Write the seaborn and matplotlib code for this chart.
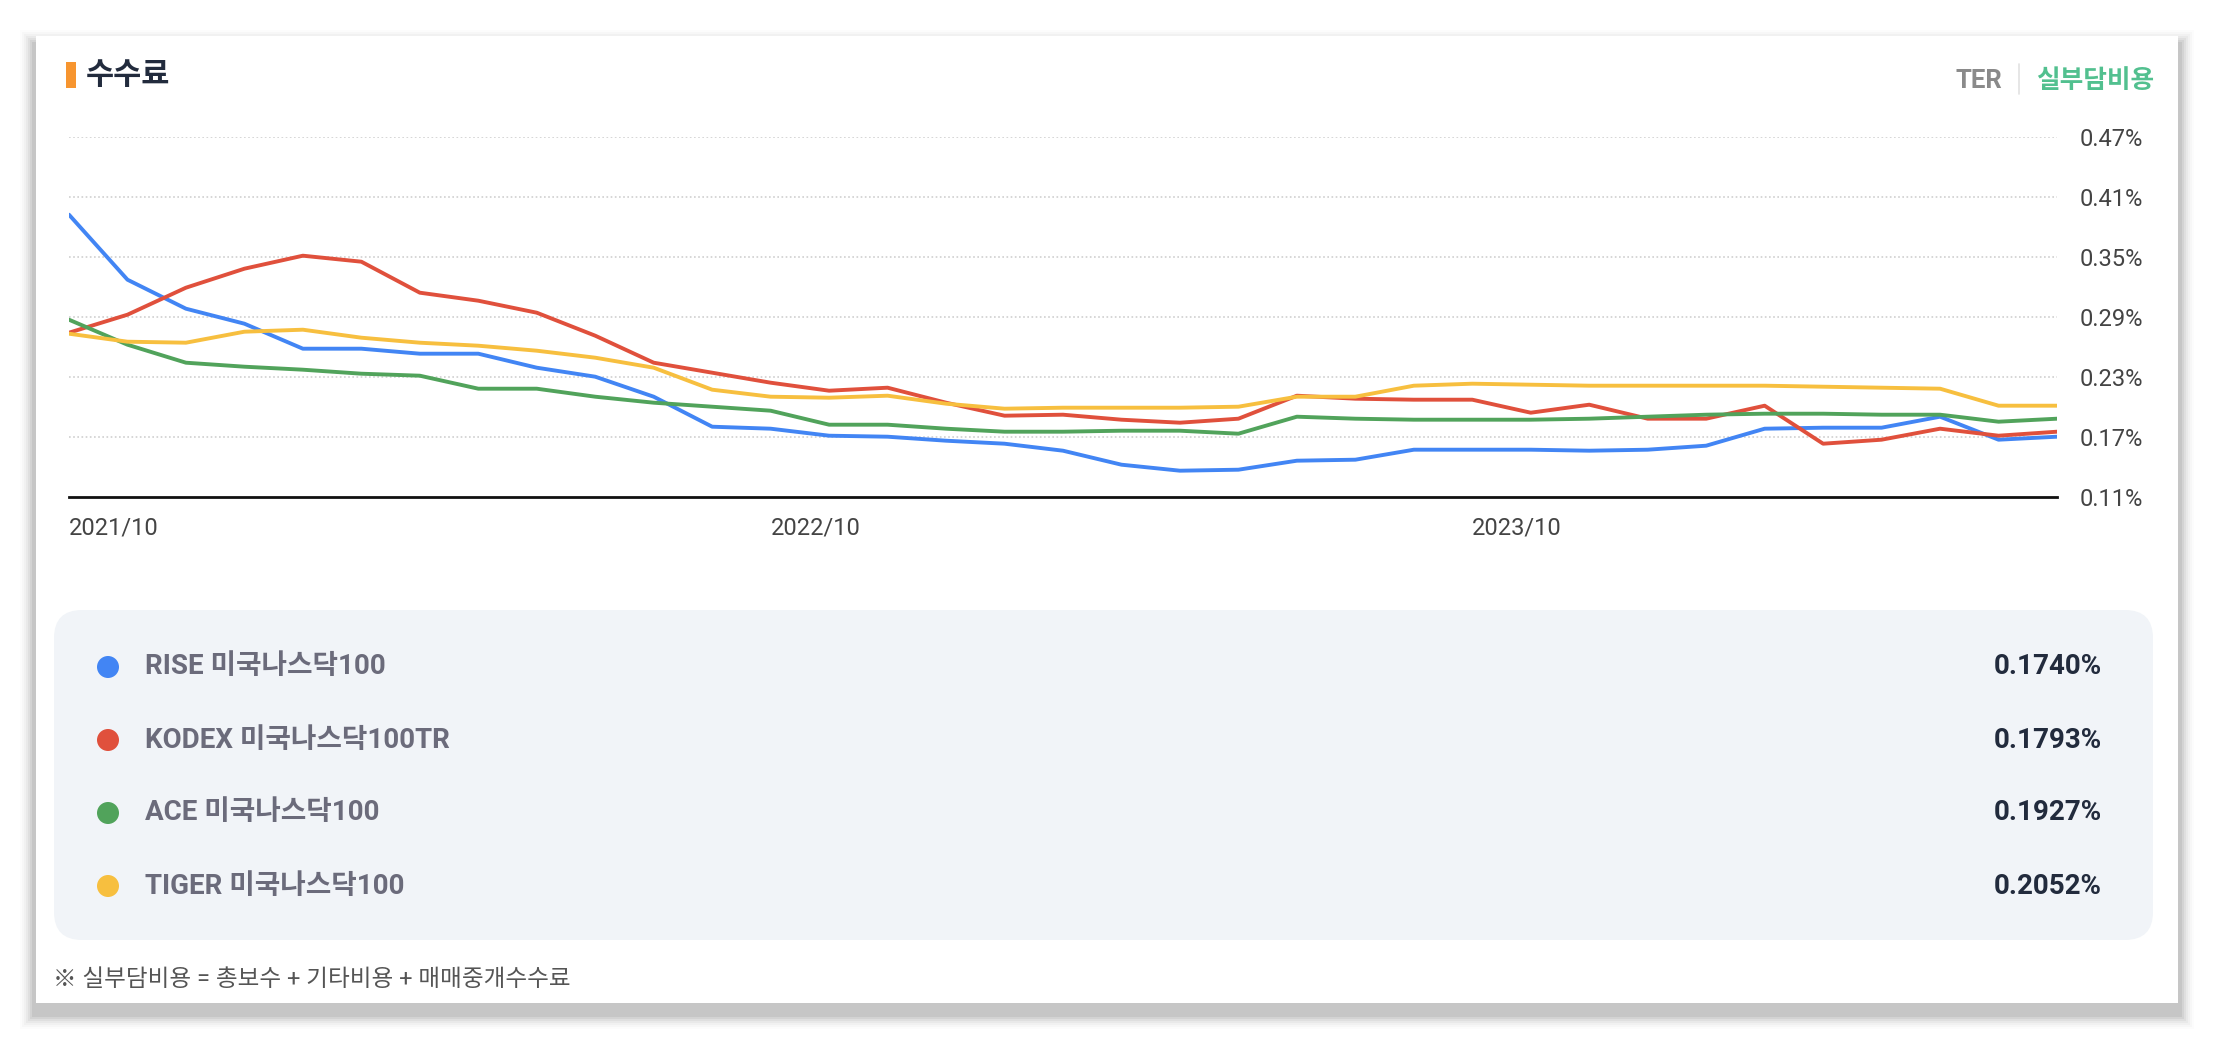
import matplotlib
matplotlib.use("Agg")
import matplotlib.pyplot as plt
from matplotlib.patches import FancyBboxPatch, Rectangle, Circle
import pandas as pd
import seaborn as sns

# monthly, 2021/10 .. 2024/08
months = pd.period_range("2021-10", periods=35, freq="M").strftime("%Y/%m").tolist()

rise = [0.392, 0.327, 0.298, 0.283, 0.258, 0.258, 0.253, 0.253, 0.239, 0.230,
        0.210, 0.180, 0.178, 0.171, 0.170, 0.166, 0.163, 0.156, 0.142, 0.136,
        0.137, 0.146, 0.147, 0.157, 0.157, 0.157, 0.156, 0.157, 0.161, 0.178,
        0.179, 0.179, 0.190, 0.167, 0.170]
kodex = [0.274, 0.292, 0.319, 0.338, 0.351, 0.345, 0.314, 0.306, 0.294, 0.271,
         0.244, 0.234, 0.224, 0.216, 0.219, 0.204, 0.191, 0.192, 0.187, 0.184,
         0.188, 0.211, 0.208, 0.207, 0.207, 0.194, 0.202, 0.188, 0.188, 0.201,
         0.163, 0.167, 0.178, 0.171, 0.175]
ace = [0.287, 0.262, 0.244, 0.240, 0.237, 0.233, 0.231, 0.218, 0.218, 0.210,
       0.204, 0.200, 0.196, 0.182, 0.182, 0.178, 0.175, 0.175, 0.176, 0.176,
       0.173, 0.190, 0.188, 0.187, 0.187, 0.187, 0.188, 0.190, 0.192, 0.193,
       0.193, 0.192, 0.192, 0.185, 0.188]
tiger = [0.273, 0.265, 0.264, 0.275, 0.277, 0.269, 0.264, 0.261, 0.256, 0.249,
         0.239, 0.217, 0.210, 0.209, 0.211, 0.203, 0.198, 0.199, 0.199, 0.199,
         0.200, 0.210, 0.210, 0.221, 0.223, 0.222, 0.221, 0.221, 0.221, 0.221,
         0.220, 0.219, 0.218, 0.201, 0.201]

names = ["RISE 미국나스닥100", "KODEX 미국나스닥100TR", "ACE 미국나스닥100", "TIGER 미국나스닥100"]
latest = ["0.1740%", "0.1793%", "0.1927%", "0.2052%"]
colors = ["#4285f4", "#e0503c", "#51a35b", "#f7bf3f"]

yticks = [0.11, 0.17, 0.23, 0.29, 0.35, 0.41, 0.47]
xtick_idx = [0, 12, 24]

rows = []
for name, vals in zip(names, [rise, kodex, ace, tiger]):
    for i, v in enumerate(vals):
        rows.append({"idx": i, "month": months[i], "fund": name, "value": v})
df = pd.DataFrame(rows)

sns.set_style("white")
plt.rcParams["font.family"] = ["Roboto", "Noto Sans CJK KR", "DejaVu Sans"]

W, H = 2214, 1040
fig = plt.figure(figsize=(W / 100, H / 100), dpi=100)
fig.patch.set_facecolor("#ffffff")

def fx(px):
    return px / W

def fy(py):
    return 1 - py / H

# card shadow + card
for k, a in enumerate([0.012, 0.018, 0.024, 0.03, 0.04, 0.05, 0.06]):
    d = 16 - 2 * k
    fig.patches.append(Rectangle((fx(36 - d), fy(1003 + d + 10)), fx(2142 + 2 * d), (967 + 2 * d) / H,
                                 transform=fig.transFigure, facecolor="#000000", alpha=a,
                                 edgecolor="none", zorder=0))
fig.patches.append(Rectangle((fx(36), fy(1003)), fx(2142), 967 / H, transform=fig.transFigure,
                             facecolor="white", edgecolor="none", zorder=1))

# title
fig.patches.append(Rectangle((fx(66), fy(88)), fx(10), 26 / H, transform=fig.transFigure,
                             facecolor="#f7952f", edgecolor="none", zorder=2))
fig.text(fx(86), fy(75), "수수료", fontsize=22, fontweight="bold", color="#222b3d",
         va="center", ha="left", zorder=3)

# TER / 실부담비용 toggle
fig.text(fx(2002), fy(81), "TER", fontsize=18.5, fontweight="bold", color="#8a8a8a",
         va="center", ha="right", zorder=3)
fig.lines.append(plt.Line2D([fx(2019), fx(2019)], [fy(64), fy(94)], transform=fig.transFigure,
                            color="#e2e2e2", lw=1.2, zorder=3))
fig.text(fx(2036), fy(81), "실부담비용", fontsize=18.5, fontweight="bold", color="#52c08f",
         va="center", ha="left", zorder=3)

# line chart
ax = fig.add_axes([fx(69), fy(496.7), fx(1988), 360 / H])
ax.set_zorder(4)
ax.patch.set_alpha(0)
sns.lineplot(data=df, x="idx", y="value", hue="fund", palette=colors, linewidth=2.8,
             legend=False, ax=ax)
ax.set_xlim(0, 34)
ax.set_ylim(0.11, 0.47)
ax.set_yticks(yticks)
ax.set_yticklabels([f"{t:.2f}%" for t in yticks])
ax.yaxis.tick_right()
ax.set_xticks(xtick_idx)
ax.set_xticklabels([months[i] for i in xtick_idx], ha="left")
ax.tick_params(axis="both", length=0, labelsize=17, labelcolor="#444444")
ax.tick_params(axis="y", pad=16)
ax.tick_params(axis="x", pad=14)
ax.set_xlabel("")
ax.set_ylabel("")
for t in yticks[1:]:
    ax.axhline(t, color="#cfcfcf", lw=1.2, ls=(0, (1, 1.5)), zorder=0)
for s in ["top", "left", "right"]:
    ax.spines[s].set_visible(False)
ax.spines["bottom"].set_color("#111111")
ax.spines["bottom"].set_linewidth(2)

# legend panel
lax = fig.add_axes([fx(54), fy(940), fx(2099), 330 / H])
lax.set_zorder(3)
lax.set_xlim(54, 2153)
lax.set_ylim(940, 610)
lax.axis("off")
lax.add_patch(FancyBboxPatch((54 + 28, 610 + 28), 2099 - 56, 330 - 56,
                             boxstyle="round,pad=28", facecolor="#f1f4f8", edgecolor="none",
                             mutation_aspect=1))
row_y = [667, 740, 813, 886]
for yy, name, val, c in zip(row_y, names, latest, colors):
    lax.add_patch(Circle((108, yy), 11, facecolor=c, edgecolor="none"))
    lax.text(145, yy, name, fontsize=20, fontweight="bold", color="#6b6b7b",
             va="center", ha="left")
    lax.text(2102, yy, val, fontsize=20, fontweight="bold", color="#222b3d",
             va="center", ha="right")

fig.text(fx(53), fy(980), "※ 실부담비용 = 총보수 + 기타비용 + 매매중개수수료", fontsize=17,
         color="#555555", va="center", ha="left", zorder=3)

fig.savefig("out.png", dpi=100, facecolor=fig.get_facecolor())
